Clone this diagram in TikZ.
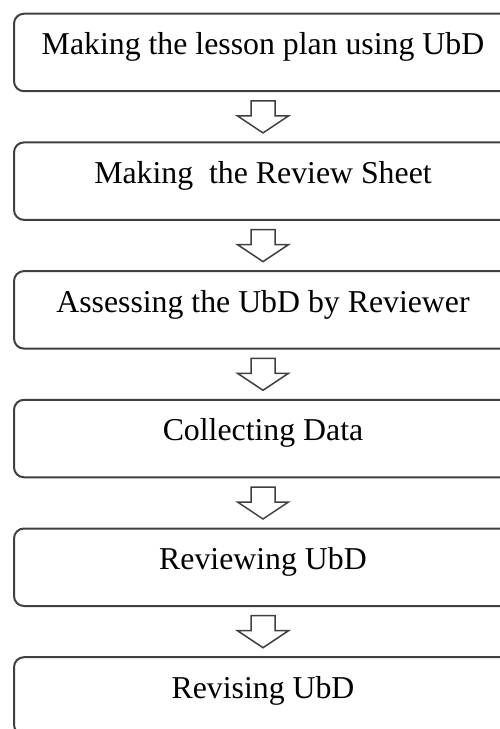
\documentclass[tikz,border=0pt]{standalone}
\usepackage{fontspec}
\setmainfont{Liberation Serif}
\usetikzlibrary{calc}
\definecolor{edgegray}{HTML}{404040}
\tikzset{
  stepbox/.style={draw=edgegray, line width=2pt, rounded corners=10pt,
    minimum width=498pt, minimum height=77.5pt, inner sep=0pt, anchor=north west},
  steptext/.style={anchor=base, inner sep=0pt,
    font=\fontsize{31.8}{38}\selectfont},
  downarrow/.style={draw=edgegray, line width=1.5pt, fill=white, line join=miter}
}
\newcommand{\flowarrow}[2]{%
  \draw[downarrow]
    ($(#1.south)+(-12pt,-8.7pt)$) -- ($(#1.south)+(12pt,-8.7pt)$)
    -- ($(#1.south)+(12pt,-23.7pt)$) -- ($(#1.south)+(25.5pt,-23.7pt)$)
    -- ($(#1.south)+(0pt,-40.7pt)$) -- ($(#1.south)+(-25.5pt,-23.7pt)$)
    -- ($(#1.south)+(-12pt,-23.7pt)$) -- cycle;}
\begin{document}
\begin{tikzpicture}[x=1pt,y=-1pt]
  \useasboundingbox (0,0) rectangle (500,729);
  \node[stepbox] (b1) at (13,12.7) {};
  \node[stepbox] (b2) at (13,141.4) {};
  \node[stepbox] (b3) at (13,270.1) {};
  \node[stepbox] (b4) at (13,398.8) {};
  \node[stepbox] (b5) at (13,527.5) {};
  \node[stepbox] (b6) at (13,656.2) {};
  \node[steptext] (t1) at ([yshift=-42pt]b1.north) {Making the lesson plan using UbD};
  \node[steptext] (t2) at ([yshift=-42pt]b2.north) {Making\ \ the Review Sheet};
  \node[steptext] (t3) at ([yshift=-42pt]b3.north) {Assessing the UbD by Reviewer};
  \node[steptext] (t4) at ([yshift=-42pt]b4.north) {Collecting Data};
  \node[steptext] (t5) at ([yshift=-42pt]b5.north) {Reviewing UbD};
  \node[steptext] (t6) at ([yshift=-42pt]b6.north) {Revising UbD};
  \flowarrow{b1}{b2}
  \flowarrow{b2}{b3}
  \flowarrow{b3}{b4}
  \flowarrow{b4}{b5}
  \flowarrow{b5}{b6}
\end{tikzpicture}
\end{document}
